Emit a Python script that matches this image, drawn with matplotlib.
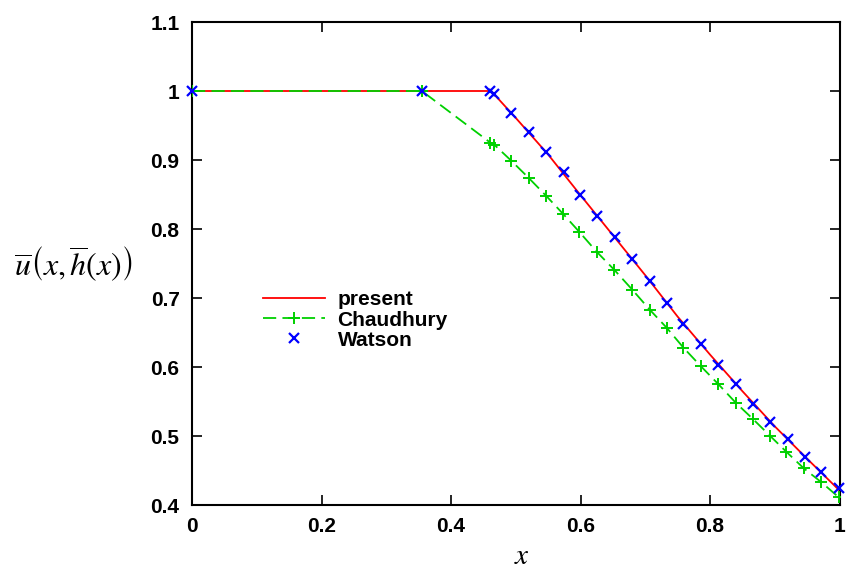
#!/usr/bin/env python3
import matplotlib
matplotlib.use("Agg")
import matplotlib.pyplot as plt
from matplotlib.lines import Line2D

plt.rcParams["font.family"] = ["Liberation Sans", "DejaVu Sans"]
plt.rcParams["mathtext.fontset"] = "stix"
plt.rcParams["lines.scale_dashes"] = False

# present (solid red curve)
present_x = [0.0, 0.462, 0.50, 0.55, 0.60, 0.65, 0.70, 0.75, 0.80, 0.85, 0.90, 0.95, 1.0]
present_y = [1.0, 1.0, 0.961, 0.908, 0.849, 0.791, 0.733, 0.673, 0.618, 0.565, 0.514, 0.467, 0.421]

# Chaudhury (dashed green with + markers)
chaud_x = [0.0, 0.355, 0.461, 0.467, 0.493, 0.520, 0.547, 0.573, 0.598, 0.625, 0.652, 0.680,
           0.707, 0.733, 0.759, 0.786, 0.813, 0.840, 0.867, 0.893, 0.918, 0.945, 0.972, 0.999]
chaud_y = [1.0, 1.0, 0.925, 0.922, 0.899, 0.874, 0.848, 0.822, 0.796, 0.767, 0.741, 0.712,
           0.683, 0.657, 0.628, 0.601, 0.575, 0.548, 0.524, 0.500, 0.477, 0.453, 0.433, 0.411]

# Watson (blue x markers)
watson_x = [0.0, 0.355, 0.461, 0.467, 0.493, 0.520, 0.547, 0.574, 0.599, 0.626, 0.653, 0.680,
            0.707, 0.733, 0.759, 0.786, 0.813, 0.840, 0.867, 0.893, 0.920, 0.946, 0.972, 0.999]
watson_y = [1.0, 1.0, 1.0, 0.995, 0.968, 0.941, 0.912, 0.882, 0.850, 0.819, 0.788, 0.756,
            0.725, 0.693, 0.663, 0.633, 0.603, 0.575, 0.547, 0.521, 0.495, 0.470, 0.448, 0.425]

xticks = [0, 0.2, 0.4, 0.6, 0.8, 1]
xtick_labels = ["0", "0.2", "0.4", "0.6", "0.8", "1"]
yticks = [0.4, 0.5, 0.6, 0.7, 0.8, 0.9, 1.0, 1.1]
ytick_labels = ["0.4", "0.5", "0.6", "0.7", "0.8", "0.9", "1", "1.1"]

red = "#ff0000"
green = "#00d000"
blue = "#0000ff"

fig = plt.figure(figsize=(8.46, 5.71), dpi=100)
ax = fig.add_axes([192 / 846, 1 - 505 / 571, 647.5 / 846, 483 / 571])

ax.plot(present_x, present_y, "-", color=red, lw=1.3, zorder=2)
ax.plot(chaud_x, chaud_y, "--", color=green, lw=1.3, dashes=(9.5, 4.5),
        marker="+", ms=9, mew=1.4, zorder=3)
ax.plot(watson_x, watson_y, "x", color=blue, ms=6.5, mew=1.6, zorder=4, clip_on=False)

ax.set_xlim(0, 1)
ax.set_ylim(0.4, 1.1)
ax.set_xticks(xticks)
ax.set_xticklabels(xtick_labels)
ax.set_yticks(yticks)
ax.set_yticklabels(ytick_labels)
ax.tick_params(direction="in", length=7, width=1.2, top=True, right=True,
               labelsize=15, pad=9)
for lab in ax.get_xticklabels() + ax.get_yticklabels():
    lab.set_fontweight("bold")
for sp in ax.spines.values():
    sp.set_linewidth(1.5)

fig.text(522 / 846, 1 - 556 / 571, r"$x$", fontsize=21, ha="center", va="center")
fig.text(73 / 846, 1 - 264 / 571,
         r"$\overline{u}\left(x,\overline{h}\left(x\right)\right)$",
         fontsize=23, ha="center", va="center")

handles = [
    Line2D([], [], color=red, lw=1.3),
    Line2D([], [], color=green, lw=1.3, ls="--", dashes=(9.5, 4.5), marker="+", ms=9, mew=1.4),
    Line2D([], [], color=blue, ls="none", marker="x", ms=6.5, mew=1.6),
]
leg = ax.legend(handles, ["present", "Chaudhury", "Watson"], loc="upper left",
                bbox_to_anchor=(0.08, 0.483), frameon=False, handlelength=3.0,
                handletextpad=0.6, labelspacing=0.05,
                prop={"size": 15, "weight": "bold"})

fig.savefig("out.png", dpi=100)
print("Saved out.png")
